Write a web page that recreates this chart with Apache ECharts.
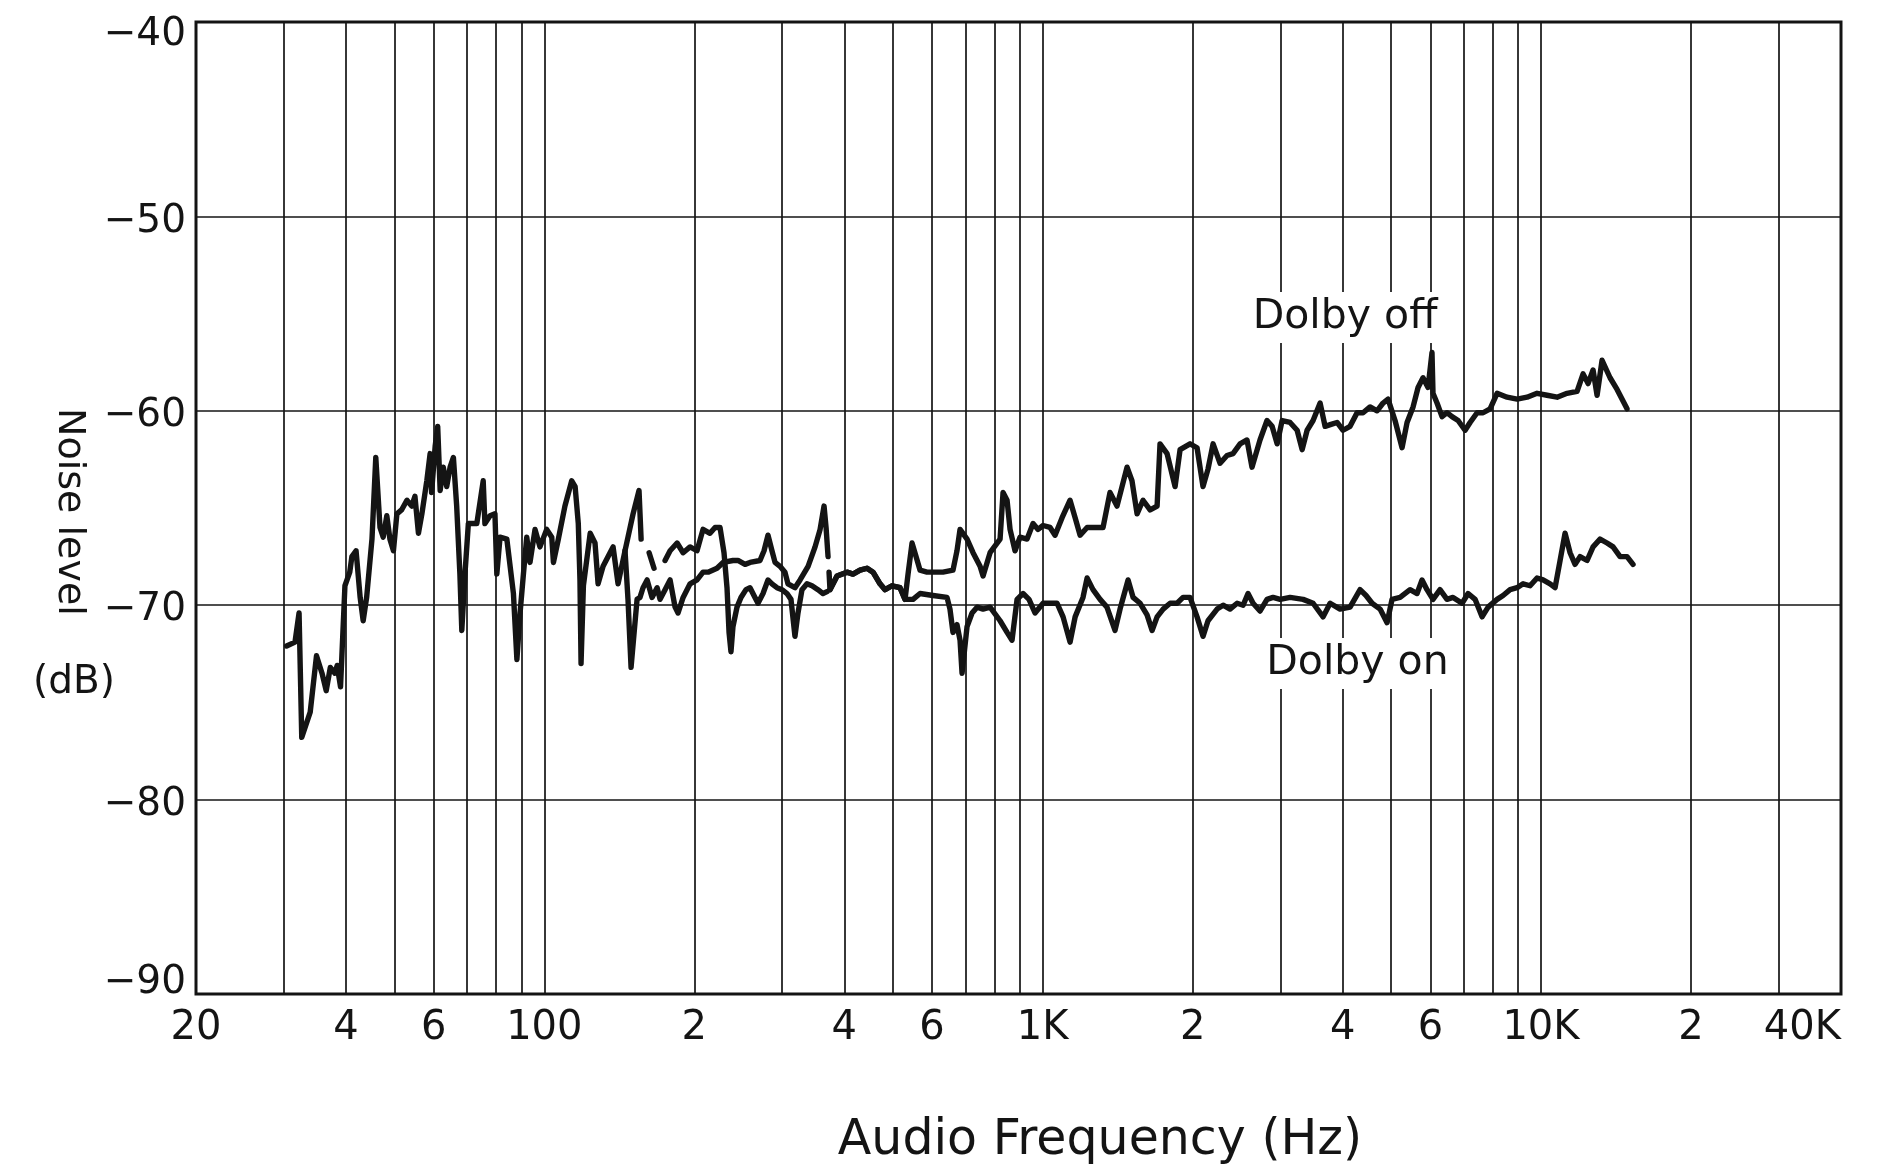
<!DOCTYPE html>
<html>
<head>
<meta charset="utf-8">
<script src="https://cdn.jsdelivr.net/npm/echarts@6/dist/echarts.min.js"></script>
<style>
  html, body { margin: 0; padding: 0; background: #fff; }
  #chart { width: 1886px; height: 1174px; }
</style>
</head>
<body>
<div id="chart"></div>
<script>
// ---- tick values / labels ----
const xGridValues = [20,30,40,50,60,70,80,90,100,200,300,400,500,600,700,800,900,1000,2000,3000,4000,5000,6000,7000,8000,9000,10000,20000,30000,40000];
const xLabelValues = [20,40,60,100,200,400,600,1000,2000,4000,6000,10000,20000,40000];
const xLabelTexts  = ['20','4','6','100','2','4','6','1K','2','4','6','10K','2','40K'];
const yMin = -90, yMax = -40, yStep = 10;

// ---- series values: [frequency Hz, noise level dB]; null = gap in trace ----
const dolbyOff = [
  [30.4,-72.1],[31.6,-71.9],[32.2,-70.4],[32.6,-76.8],[33.9,-75.5],[34.9,-72.6],[35.8,-73.5],[36.5,-74.4],[37.2,-73.2],[38.0,-73.5],
  [38.4,-73.1],[39.0,-74.2],[39.8,-69.0],[40.7,-68.3],[41.1,-67.5],[41.9,-67.2],[42.7,-69.6],[43.3,-70.8],[44.0,-69.6],[45.1,-66.6],
  [45.9,-62.4],[46.8,-66.0],[47.5,-66.5],[48.3,-65.4],[49.0,-66.6],[49.8,-67.2],[50.6,-65.3],[51.7,-65.1],[53.0,-64.6],[54.2,-64.9],
  [55.0,-64.4],[55.9,-66.3],[56.8,-65.3],[58.1,-63.6],[59.0,-62.2],[59.4,-64.2],[60.4,-61.8],[61.1,-60.8],[61.8,-64.1],[62.7,-62.9],
  [63.7,-63.9],[64.7,-62.9],[65.7,-62.4],[66.7,-64.9],[67.7,-68.4],[68.3,-71.3],[69.3,-68.4],[70.4,-65.8],[73.2,-65.8],[75.4,-63.6],
  [76.0,-65.8],[77.8,-65.4],[79.6,-65.3],[80.3,-68.4],[81.5,-66.5],[84.1,-66.6],[86.7,-69.4],[88.1,-72.8],[89.4,-70.4],[90.8,-68.4],
  [92.2,-66.5],[93.6,-67.8],[95.8,-66.1],[98.0,-67.0],[101.1,-66.1],[103.5,-66.5],[104.3,-67.8],[106.7,-66.6],[110.0,-64.9],[113.5,-63.6],
  [115.3,-63.9],[117.0,-65.8],[117.9,-68.7],[118.5,-73.0],[119.8,-69.0],[123.6,-66.3],[126.4,-66.8],[128.2,-68.9],[131.2,-68.0],[135.5,-67.3],
  [137.4,-67.0],[140.6,-68.9],[145.2,-67.2],[150.7,-65.3],[154.9,-64.1],[156.4,-66.6],
  null,
  [162.3,-67.3],[166.0,-68.1],
  null,
  [174.7,-67.7],[178.8,-67.2],[184.7,-66.8],[189.9,-67.3],[196.1,-67.0],[202.5,-67.2],[208.2,-66.1],[215.0,-66.3],[220.1,-66.0],[225.2,-66.0],
  [229.4,-67.3],[232.6,-69.1],[234.8,-71.4],[236.9,-72.4],[239.1,-71.1],[243.6,-70.1],[248.1,-69.6],[253.9,-69.2],[258.7,-69.1],[264.7,-69.6],
  [268.4,-69.9],[274.7,-69.4],[281.1,-68.7],[286.3,-68.9],[293.0,-69.1],[299.9,-69.2],[306.9,-69.4],[312.6,-69.7],[318.4,-71.6],[322.9,-70.4],
  [328.9,-69.2],[336.6,-68.9],[344.5,-69.0],[354.1,-69.2],[362.4,-69.4],[369.2,-69.3],
  null,
  [374.3,-69.2],[386.7,-68.5],[405.0,-68.3],[416.3,-68.4],[430.1,-68.2],[444.2,-68.1],[456.7,-68.3],[471.7,-68.9],[482.8,-69.2],[498.6,-69.0],
  [517.4,-69.1],[529.5,-69.7],[536.9,-68.4],[546.9,-66.8],[557.1,-67.5],[567.5,-68.2],[586.0,-68.3],[602.5,-68.3],[631.0,-68.3],[660.8,-68.2],
  [673.1,-67.2],[682.7,-66.1],[705.2,-66.6],[725.0,-67.3],[748.9,-68.0],[759.3,-68.5],[784.3,-67.3],[821.4,-66.6],[832.8,-64.2],[848.4,-64.6],
  [860.2,-66.1],[880.3,-67.2],[900.8,-66.5],[930.4,-66.6],[956.6,-65.8],[978.9,-66.1],[1002,-65.9],[1035,-66.0],[1059,-66.4],[1094,-65.5],
  [1135,-64.6],[1162,-65.5],[1189,-66.4],[1228,-66.0],[1274,-66.0],[1322,-66.0],[1365,-64.2],[1410,-64.9],[1477,-62.9],[1511,-63.6],
  [1547,-65.3],[1590,-64.6],[1643,-65.1],[1697,-64.9],[1720,-61.7],[1777,-62.2],[1844,-63.9],[1887,-62.0],[1976,-61.7],[2041,-61.9],
  [2098,-63.9],[2147,-63.0],[2198,-61.7],[2270,-62.7],[2344,-62.3],[2410,-62.2],[2490,-61.7],[2571,-61.5],[2631,-62.9],[2730,-61.5],
  [2820,-60.5],[2887,-60.8],[2955,-61.7],[3024,-60.5],[3137,-60.6],[3241,-61.0],[3317,-62.0],[3394,-61.0],[3489,-60.5],[3604,-59.6],
  [3688,-60.8],[3791,-60.7],[3898,-60.6],[4007,-61.0],[4139,-60.8],[4275,-60.1],[4395,-60.1],[4540,-59.8],[4689,-60.0],[4821,-59.6],
  [4933,-59.4],[5095,-60.5],[5263,-61.9],[5386,-60.6],[5538,-59.8],[5667,-58.8],[5798,-58.3],[5934,-58.8],[6044,-57.0],[6072,-59.1],
  [6186,-59.6],[6331,-60.3],[6478,-60.1],[6629,-60.3],[6818,-60.5],[7042,-61.0],[7207,-60.6],[7444,-60.1],[7653,-60.1],[7905,-59.9],
  [8164,-59.1],[8551,-59.3],[8954,-59.4],[9378,-59.3],[9821,-59.1],[10286,-59.2],[10772,-59.3],[11282,-59.1],[11815,-59.0],[12148,-58.1],
  [12432,-58.6],[12721,-57.9],[12959,-59.2],[13262,-57.4],[13760,-58.3],[14213,-58.9],[14883,-59.9]
];

const dolbyOn = [
  [145.2,-67.2],[147.2,-69.7],[149.3,-73.2],[153.5,-69.7],[155.6,-69.6],[157.8,-69.1],[160.8,-68.7],[164.5,-69.6],[168.4,-69.1],[170.7,-69.7],
  [174.7,-69.2],[178.8,-68.7],[183.0,-70.1],[185.5,-70.4],[189.9,-69.6],[196.1,-68.9],[202.5,-68.7],[208.2,-68.3],[213.1,-68.3],[222.1,-68.1],
  [228.4,-67.8],[239.1,-67.7],[244.7,-67.7],[252.8,-67.9],[258.7,-67.8],[270.9,-67.7],[276.0,-67.2],[281.1,-66.4],[286.3,-67.2],[290.4,-67.8],
  [297.2,-68.0],[304.0,-68.3],[308.3,-68.9],[318.4,-69.1],[326.0,-68.7],[338.3,-68.0],[349.4,-67.0],[357.6,-66.1],[364.2,-64.9],[367.6,-66.0],
  [371.0,-67.5],
  null,
  [372.7,-68.3],[374.3,-69.2],[386.7,-68.5],[405.0,-68.3],[416.3,-68.4],[430.1,-68.2],[444.2,-68.1],[456.7,-68.3],[471.7,-68.9],[482.8,-69.2],
  [498.6,-69.0],[517.4,-69.1],[529.5,-69.7],[549.4,-69.7],[567.5,-69.4],[602.5,-69.5],[642.8,-69.6],[651.7,-70.2],[660.8,-71.4],[673.1,-71.0],
  [682.7,-71.8],[689.1,-73.5],[705.2,-71.1],[721.7,-70.4],[738.6,-70.1],[759.3,-70.2],[784.3,-70.1],[821.4,-70.8],[848.4,-71.4],[868.1,-71.8],
  [888.5,-69.7],[913.4,-69.4],[939.0,-69.7],[965.4,-70.4],[1002,-69.9],[1035,-69.9],[1069,-69.9],[1099,-70.6],[1135,-71.9],[1162,-70.6],
  [1205,-69.6],[1228,-68.6],[1262,-69.2],[1304,-69.7],[1346,-70.1],[1397,-71.3],[1430,-70.2],[1484,-68.7],[1519,-69.6],[1569,-69.9],
  [1620,-70.5],[1658,-71.3],[1697,-70.6],[1745,-70.2],[1802,-69.9],[1861,-69.9],[1913,-69.6],[1976,-69.6],[2041,-70.6],[2098,-71.6],
  [2147,-70.8],[2239,-70.2],[2302,-70.0],[2377,-70.2],[2456,-69.9],[2525,-70.0],[2583,-69.4],[2644,-69.9],[2730,-70.3],[2820,-69.7],
  [2900,-69.6],[2996,-69.7],[3137,-69.6],[3332,-69.7],[3489,-69.9],[3654,-70.6],[3774,-69.9],[3952,-70.2],[4139,-70.1],[4335,-69.2],
  [4456,-69.5],[4582,-69.9],[4755,-70.2],[4911,-70.9],[5025,-69.7],[5215,-69.6],[5461,-69.2],[5641,-69.4],[5772,-68.7],[5906,-69.2],
  [6072,-69.7],[6272,-69.2],[6478,-69.7],[6661,-69.6],[6945,-69.9],[7141,-69.4],[7375,-69.7],[7617,-70.6],[7832,-70.1],[8164,-69.7],
  [8393,-69.5],[8670,-69.2],[8954,-69.1],[9206,-68.9],[9509,-69.0],[9821,-68.6],[10097,-68.7],[10430,-68.9],[10673,-69.1],[10923,-67.7],
  [11177,-66.3],[11439,-67.3],[11706,-67.9],[11980,-67.5],[12374,-67.7],[12721,-67.0],[13139,-66.6],[13570,-66.8],[13952,-67.0],[14412,-67.5],
  [14883,-67.5],[15301,-67.9]
];

// annotation anchors [frequency Hz, dB]
const offLabelAt = [4044, -55.2];
const onLabelAt  = [4283, -73.0];

// ---- build ----
const lg = v => Math.log10(v);
const toXY = arr => arr.map(p => p === null ? ['-', '-'] : [lg(p[0]), p[1]]);
const FONT = '"DejaVu Sans", "Liberation Sans", sans-serif';
const INK = '#141414';

function labelFor(v) {
  let best = 0, bd = Infinity;
  xLabelValues.forEach((f, i) => { const d = Math.abs(lg(f) - v); if (d < bd) { bd = d; best = i; } });
  return xLabelTexts[best];
}

const chart = echarts.init(document.getElementById('chart'), null, { renderer: 'canvas' });

const markLabel = (text) => ({
  show: true, formatter: text, position: 'inside',
  fontFamily: FONT, fontSize: 41, color: INK,
  backgroundColor: '#fff', padding: [6, 8, 4, 8]
});

const yRich = (pad) => ({ fontFamily: FONT, fontSize: 39, color: INK, padding: pad });

chart.setOption({
  backgroundColor: '#fff',
  animation: false,
  grid: {
    left: 196, right: 45, top: 22, bottom: 180,
    show: true, borderColor: INK, borderWidth: 3, backgroundColor: 'transparent'
  },
  xAxis: {
    type: 'value',
    min: lg(20), max: lg(40000),
    axisLine: { show: false },
    axisTick: { show: false, customValues: xGridValues.map(lg) },
    splitLine: { show: true, lineStyle: { color: INK, width: 1.7 } },
    axisLabel: {
      customValues: xLabelValues.map(lg),
      formatter: v => labelFor(v),
      fontFamily: FONT, fontSize: 40, color: INK, margin: 15,
      alignMaxLabel: 'right'
    }
  },
  yAxis: {
    type: 'value',
    min: yMin, max: yMax, interval: yStep,
    axisLine: { show: false },
    axisTick: { show: false },
    splitLine: { show: true, lineStyle: { color: INK, width: 1.7 } },
    axisLabel: {
      formatter: v => {
        const t = '\u2212' + Math.abs(v);
        if (v === yMax) return '{t|' + t + '}';
        if (v === yMin) return '{b|' + t + '}';
        return '{m|' + t + '}';
      },
      rich: { t: yRich([26, 0, 0, 0]), b: yRich([0, 0, 22, 0]), m: yRich([10, 0, 0, 0]) },
      fontFamily: FONT, fontSize: 39, color: INK, margin: 10
    }
  },
  series: [
    {
      name: 'Dolby off', type: 'line', data: toXY(dolbyOff),
      showSymbol: false, connectNulls: false,
      lineStyle: { color: INK, width: 5.4, join: 'round', cap: 'round' },
      z: 5,
      markPoint: {
        symbol: 'rect', symbolSize: 1, itemStyle: { color: 'rgba(0,0,0,0)' },
        label: markLabel('Dolby off'),
        data: [{ coord: [lg(offLabelAt[0]), offLabelAt[1]] }]
      }
    },
    {
      name: 'Dolby on', type: 'line', data: toXY(dolbyOn),
      showSymbol: false, connectNulls: false,
      lineStyle: { color: INK, width: 5.4, join: 'round', cap: 'round' },
      z: 5,
      markPoint: {
        symbol: 'rect', symbolSize: 1, itemStyle: { color: 'rgba(0,0,0,0)' },
        label: markLabel('Dolby on'),
        data: [{ coord: [lg(onLabelAt[0]), onLabelAt[1]] }]
      }
    }
  ],
  graphic: [
    {
      type: 'text', x: 69, y: 512, rotation: -Math.PI / 2, z: 100,
      style: { text: 'Noise level', fontFamily: FONT, fontSize: 38, fill: INK, align: 'center', verticalAlign: 'middle' }
    },
    {
      type: 'text', x: 74, y: 683, z: 100,
      style: { text: '(dB)', fontFamily: FONT, fontSize: 39, fill: INK, align: 'center', verticalAlign: 'middle' }
    },
    {
      type: 'text', x: 1100, y: 1141, z: 100,
      style: { text: 'Audio Frequency (Hz)', fontFamily: FONT, fontSize: 49, fill: INK, align: 'center', verticalAlign: 'middle' }
    }
  ]
});
</script>
</body>
</html>
